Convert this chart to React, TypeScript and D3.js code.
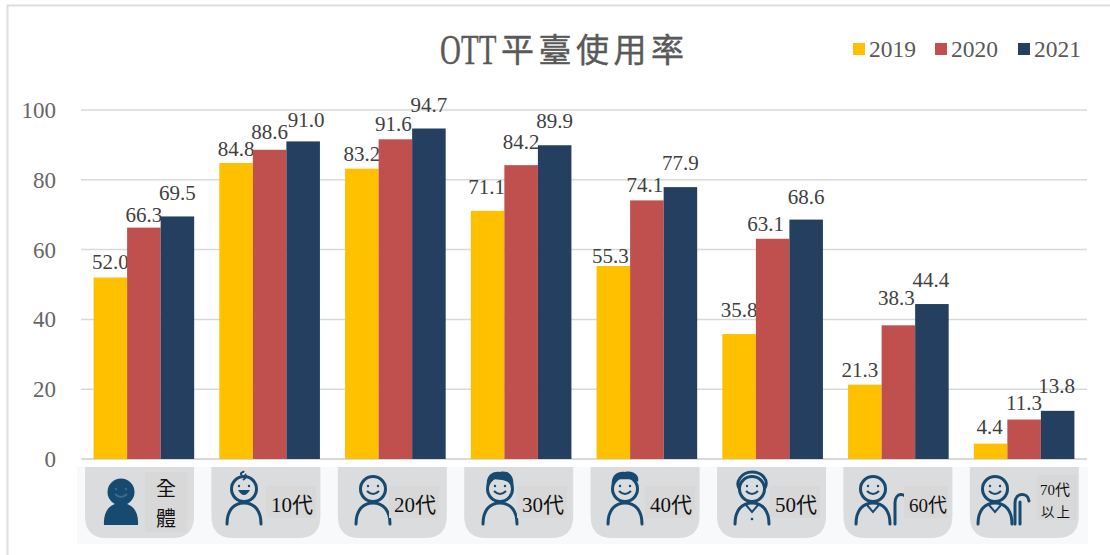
import React from "react";
import * as d3 from "d3";

const groups = ["全體", "10代", "20代", "30代", "40代", "50代", "60代", "70代以上"];
const years = ["2019", "2020", "2021"];
const values2019 = [52.0, 84.8, 83.2, 71.1, 55.3, 35.8, 21.3, 4.4];
const values2020 = [66.3, 88.6, 91.6, 84.2, 74.1, 63.1, 38.3, 11.3];
const values2021 = [69.5, 91.0, 94.7, 89.9, 77.9, 68.6, 44.4, 13.8];
const yTicks = [0, 20, 40, 60, 80, 100];
const series = [values2019, values2020, values2021];
const colors = ["#ffc000", "#c0504d", "#243f60"];

// label gaps above each bar, as placed by hand in the original
const gap2019 = [8.5, 7, 7.6, 17, 3, 17, 8, 9.5];
const gap2020 = [5.5, 11, 8, 16, 8, 8, 20, 9.5];
const gap2021 = [16, 14, 16, 17, 17, 15.5, 17, 18];
const gaps = [gap2019, gap2020, gap2021];
const nudge2019 = [0, 0, 0, -1, -3, 0, -5, -1];
const nudge2020 = [0, 0, -2, 0, -2, -7, -2, 0];
const nudge2021 = [0, 3, 0, 0, 0, 0, -1, -1];
const nudges = [nudge2019, nudge2020, nudge2021];

const SERIF = '"Liberation Serif","Noto Sans CJK TC",serif';
const NAVY = "#174a70";

const y = d3.scaleLinear().domain([0, 100]).range([459, 110]);
const x0 = d3.scaleBand<string>().domain(groups).range([81, 1087]).paddingInner(0.2).paddingOuter(0.1);
const x1 = d3.scaleBand<string>().domain(years).range([0, x0.bandwidth()]);

function Person({ cx, kind }: { cx: number; kind: string }) {
  const cy = kind === "all" ? 492 : 489;
  const r = kind === "all" ? 13.5 : 12.5;
  const filled = kind === "all";
  const stroke = filled ? "none" : NAVY;
  const sw = 3;
  const face = filled ? "#3d6a8c" : NAVY;
  return (
    <g>
      {filled ? (
        <path d={`M${cx - 17} 525 C${cx - 18} 510 ${cx - 10} 503 ${cx} 503 C${cx + 10} 503 ${cx + 18} 510 ${cx + 17} 525 Z`} fill={NAVY} />
      ) : (
        <path d={`M${cx - 17} 524 C${cx - 17} 510 ${cx - 10} 503 ${cx} 503 C${cx + 10} 503 ${cx + 17} 510 ${cx + 17} 524`} fill="none" stroke={NAVY} strokeWidth={sw} strokeLinecap="round" />
      )}
      <circle cx={cx} cy={cy} r={r} fill={filled ? NAVY : "#dbdcde"} stroke={stroke} strokeWidth={sw} />
      {(kind === "30" || kind === "40") && (
        <path d={`M${cx - 13} 487 C${cx - 15} 474 ${cx - 6} 471 ${cx} 472 C${cx + 9} 470 ${cx + 15} 476 ${cx + 13} ${kind === "30" ? 487 : 482} C${cx + 8} 478 ${cx - 5} 480 ${cx - 8} 479 C${cx - 9} 482 ${cx - 11} 485 ${cx - 13} 487 Z`} fill={NAVY} />
      )}
      {kind === "50" && (
        <path d={`M${cx - 12} 490 C${cx - 18} 482 ${cx - 10} 472 ${cx} 472 C${cx + 10} 472 ${cx + 17} 480 ${cx + 13} 488`} fill="none" stroke={NAVY} strokeWidth={3} />
      )}
      {kind === "10" && <path d={`M${cx - 2} 476 C${cx - 5} 472 ${cx - 1} 473 ${cx} 471 M${cx - 1} 480 C${cx + 2} 478 ${cx + 3} 476 ${cx + 1} 474`} fill="none" stroke={NAVY} strokeWidth={2} />}
      <circle cx={cx - 5} cy={cy - 3} r={1.2} fill={face} />
      <circle cx={cx + 5} cy={cy - 3} r={1.2} fill={face} />
      {kind === "10" ? (
        <path d={`M${cx - 6} ${cy + 1} Q${cx} ${cy + 11} ${cx + 6} ${cy + 1} Z`} fill={NAVY} />
      ) : (
        <path d={`M${cx - 6} ${cy + 2} Q${cx} ${cy + 8} ${cx + 6} ${cy + 2}`} fill="none" stroke={face} strokeWidth={2} />
      )}
      {(kind === "50" || kind === "60" || kind === "70") && (
        <path d={`M${cx - 6} 505 L${cx} 512 L${cx + 6} 505`} fill="none" stroke={NAVY} strokeWidth={2} />
      )}
      {kind === "50" && <circle cx={cx} cy={519} r={1.3} fill={NAVY} />}
      {kind === "60" && <path d={`M${cx + 22} 524 L${cx + 22} 503 C${cx + 22} 492 ${cx + 33} 492 ${cx + 34} 501`} fill="none" stroke={NAVY} strokeWidth={3} strokeLinecap="round" />}
      {kind === "70" && (
        <path d={`M${cx + 20} 524 L${cx + 20} 503 C${cx + 20} 492 ${cx + 33} 492 ${cx + 34} 501 M${cx + 25} 524 L${cx + 25} 502`} fill="none" stroke={NAVY} strokeWidth={3} strokeLinecap="round" />
      )}
    </g>
  );
}

const tileKinds = ["all", "10", "20", "30", "40", "50", "60", "70"];
const tileHead = [121, 244, 373, 500, 625, 752, 873, 995];
const tileLeft = d3.range(8).map((i) => 85 + i * 126.4);

function tilePath(l: number) {
  const w = 109, top = 467, bottom = 538, r = 22;
  return `M${l} ${top} H${l + w} V${bottom - r} Q${l + w} ${bottom} ${l + w - r} ${bottom} H${l + r} Q${l} ${bottom} ${l} ${bottom - r} Z`;
}

const ageLabels = ["10代", "20代", "30代", "40代", "50代", "60代"];
const ageLabelX = [271, 394, 522, 650, 775, 909];

export default function App() {
  return (
    <svg width={1110} height={555} style={{ position: "absolute", left: 0, top: 0, background: "#fff" }} fontFamily={SERIF}>
      <path d="M1110 5.5 H7.5 V555" fill="none" stroke="#dedede" strokeWidth={2} />

      <text transform="translate(440,64) scale(0.69,1)" fontSize={42} fill="#595959" stroke="#595959" strokeWidth={0.4}>OTT</text>
      <text x={501} y={62} fontSize={33} fill="#595959" letterSpacing={4.5} stroke="#595959" strokeWidth={0.4} fontFamily='"Noto Sans CJK TC",sans-serif'>平臺使用率</text>

      {years.map((yr, i) => {
        const lx = [853, 935, 1018][i];
        return (
          <g key={yr}>
            <rect x={lx} y={43} width={12} height={12} fill={colors[i]} />
            <text x={lx + 16} y={57} fontSize={23.5} fill="#595959">{yr}</text>
          </g>
        );
      })}

      {yTicks.map((t) => (
        <g key={t}>
          <line x1={81} x2={1087} y1={y(t)} y2={y(t)} stroke="#d9d9d9" strokeWidth={t === 0 ? 2 : 1.5} />
          <text x={56} y={y(t) + 8} textAnchor="end" fontSize={23} fill="#666">{t}</text>
        </g>
      ))}

      {groups.map((g, gi) => (
        <g key={g} transform={`translate(${x0(g)},0)`}>
          {years.map((yr, si) => {
            const v = series[si][gi];
            return (
              <g key={yr}>
                <rect x={x1(yr)} y={y(v)} width={x1.bandwidth()} height={y(0) - y(v)} fill={colors[si]} />
                <text x={x1(yr)! + x1.bandwidth() / 2 + nudges[si][gi]} y={y(v) - gaps[si][gi]} textAnchor="middle" fontSize={21} fill="#404040">{v.toFixed(1)}</text>
              </g>
            );
          })}
        </g>
      ))}

      <rect x={77} y={467} width={1011} height={77} fill="#f8f9fb" />
      {tileLeft.map((l, i) => (
        <g key={i}>
          <path d={tilePath(l)} fill="#dbdcde" />
          <Person cx={tileHead[i]} kind={tileKinds[i]} />
        </g>
      ))}
      <rect x={145} y={472} width={42} height={60} fill="#d8d8d9" />
      <text x={166} y={496} textAnchor="middle" fontSize={20} fill="#111" fontFamily='"Noto Sans CJK TC",sans-serif'>全</text>
      <text x={166} y={526} textAnchor="middle" fontSize={20} fill="#111" fontFamily='"Noto Sans CJK TC",sans-serif'>體</text>
      {ageLabels.map((t, i) => (
        <g key={t}>
          <rect x={ageLabelX[i] - 5} y={486} width={i === 5 ? 44 : 50} height={32} fill="#d8d8d9" />
          <text x={ageLabelX[i]} y={512} fontSize={i === 5 ? 19 : 21} fill="#111">{t}</text>
        </g>
      ))}
      <rect x={1037} y={475} width={40} height={45} fill="#d8d8d9" />
      <text x={1040} y={495} fontSize={15} fill="#111">70代</text>
      <text x={1041} y={517} fontSize={13.5} fill="#111" letterSpacing={2}>以上</text>
    </svg>
  );
}
